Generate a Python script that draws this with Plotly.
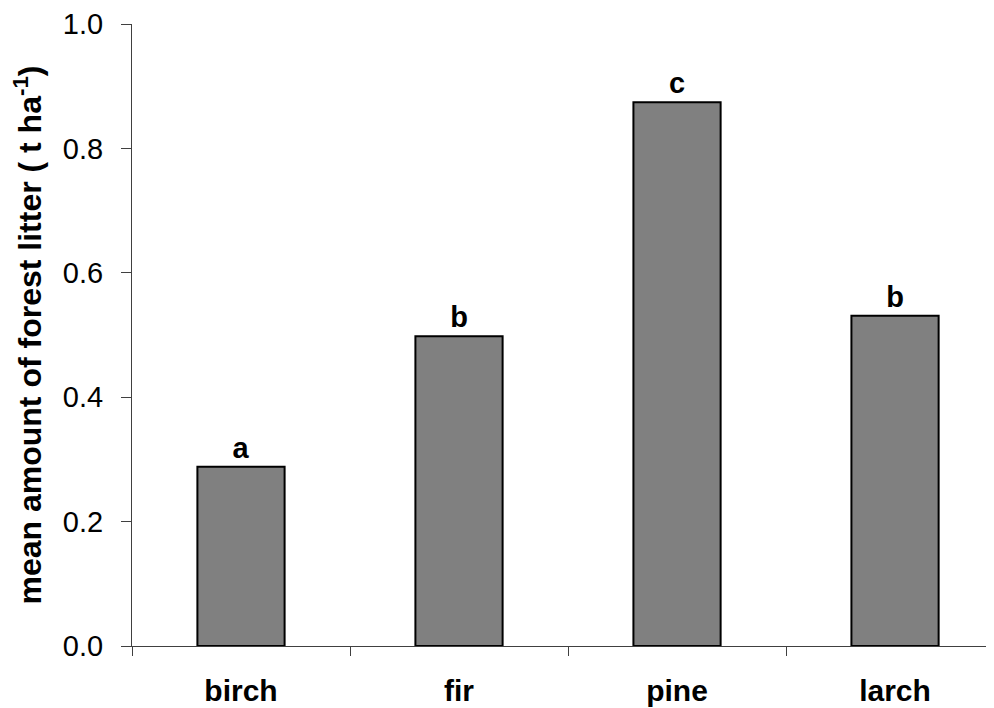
import plotly.graph_objects as go

species = ["birch", "fir", "pine", "larch"]
litter_mean = [0.288, 0.498, 0.874, 0.531]
group_letters = ["a", "b", "c", "b"]
y_tick_vals = [0.0, 0.2, 0.4, 0.6, 0.8, 1.0]
y_tick_text = ["0.0", "0.2", "0.4", "0.6", "0.8", "1.0"]

FONT = "Liberation Sans, Arial, sans-serif"

fig = go.Figure(
    go.Bar(
        x=species,
        y=litter_mean,
        width=0.4,
        marker=dict(color="#808080", line=dict(color="#000000", width=2)),
        text=group_letters,
        textposition="outside",
        textfont=dict(family=FONT, size=29, color="#000000", weight="bold"),
        cliponaxis=False,
        hoverinfo="skip",
    )
)

fig.update_layout(
    width=986,
    height=700,
    margin=dict(l=124, r=0, t=16, b=62),
    plot_bgcolor="white",
    paper_bgcolor="white",
    showlegend=False,
    font=dict(family=FONT, color="#000000"),
)

fig.update_xaxes(
    range=[-0.5, 3.454],
    showline=True,
    linecolor="#404040",
    linewidth=1,
    ticks="outside",
    tickson="boundaries",
    ticklen=9,
    tickcolor="#404040",
    tickwidth=1,
    showgrid=False,
    zeroline=False,
    tickfont=dict(family=FONT, size=30, color="#000000", weight="bold"),
    ticklabelstandoff=18,
    automargin=False,
)

fig.update_yaxes(
    range=[0, 1.0],
    tickvals=y_tick_vals,
    ticktext=y_tick_text,
    showline=True,
    linecolor="#404040",
    linewidth=1,
    ticks="outside",
    ticklen=10,
    tickcolor="#404040",
    tickwidth=1,
    showgrid=False,
    zeroline=False,
    tickfont=dict(family=FONT, size=29, color="#000000"),
    ticklabelstandoff=12,
    title=dict(
        text="mean amount of forest litter ( t ha<sup>-1</sup>)",
        font=dict(family=FONT, size=32, color="#000000", weight="bold"),
        standoff=20,
    ),
    automargin=False,
)

fig.write_html("out.html")
